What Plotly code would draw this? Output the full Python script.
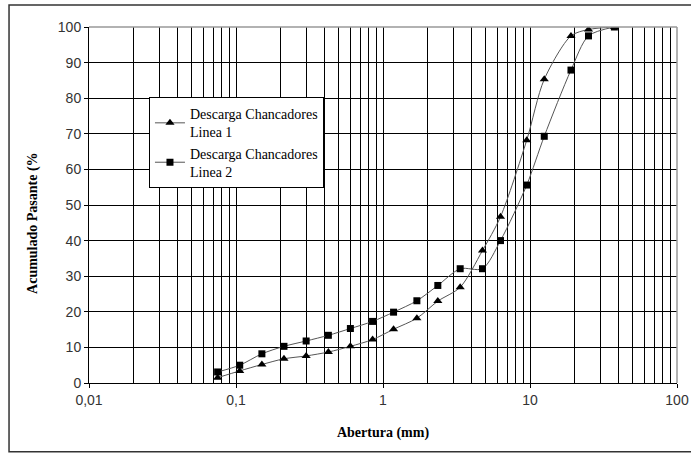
import plotly.graph_objects as go

abertura = [0.075, 0.106, 0.15, 0.212, 0.3, 0.425, 0.6, 0.85, 1.18, 1.7, 2.36,
            3.35, 4.75, 6.3, 9.5, 12.5, 19.0, 25.0, 37.5]
linea1 = [1.5, 3.4, 5.2, 6.8, 7.6, 8.7, 10.3, 12.2, 15.1, 18.2, 23.0,
          26.9, 37.2, 46.7, 68.2, 85.3, 97.5, 99.3, 100.0]
linea2 = [3.1, 5.0, 8.2, 10.3, 11.8, 13.4, 15.3, 17.3, 19.9, 23.1, 27.4,
          32.1, 32.1, 40.0, 55.6, 69.3, 87.9, 97.5, 100.0]

names = ["Descarga Chancadores<br>Linea 1", "Descarga Chancadores<br>Linea 2"]
x_major = [0.01, 0.1, 1, 10, 100]
x_major_text = ["0,01", "0,1", "1", "10", "100"]
x_minor = [m * 10 ** e for e in range(-2, 2) for m in range(2, 10)]
y_ticks = list(range(0, 101, 10))

fig = go.Figure()
fig.add_trace(go.Scatter(
    x=abertura, y=linea1, name=names[0], mode="lines+markers",
    line=dict(color="#555555", width=1, shape="spline", smoothing=0.8),
    marker=dict(symbol="triangle-up", size=8, color="black"),
))
fig.add_trace(go.Scatter(
    x=abertura, y=linea2, name=names[1], mode="lines+markers",
    line=dict(color="#555555", width=1, shape="spline", smoothing=0.8),
    marker=dict(symbol="square", size=7, color="black"),
))

tickfont = dict(family="Liberation Sans, Arial", size=14, color="#333333")
titlefont = dict(family="Liberation Serif, Times New Roman", size=14, color="black")

fig.update_layout(
    width=691, height=453,
    margin=dict(l=89, r=14, t=27, b=70, autoexpand=False),
    paper_bgcolor="white", plot_bgcolor="white",
    showlegend=True,
    legend=dict(
        x=0.102, y=0.803, xanchor="left", yanchor="top",
        bgcolor="white", bordercolor="black", borderwidth=1,
        font=dict(family="Liberation Serif, Times New Roman", size=14, color="black"),
        tracegroupgap=0, itemwidth=30,
    ),
    xaxis=dict(
        type="log", range=[-2, 2], automargin=False,
        tickmode="array", tickvals=x_major, ticktext=x_major_text,
        tickfont=tickfont, ticks="outside", ticklen=4, tickcolor="black",
        showgrid=True, gridcolor="black", gridwidth=1,
        minor=dict(tickmode="array", tickvals=x_minor, showgrid=True,
                   gridcolor="black", gridwidth=1, ticks=""),
        showline=True, linecolor="black", linewidth=1,
        zeroline=False,
        title=dict(text="<b>Abertura (mm)</b>", font=titlefont, standoff=20),
    ),
    yaxis=dict(
        range=[0, 100], automargin=False, tickmode="array", tickvals=y_ticks,
        tickfont=tickfont, ticks="outside", ticklen=4, tickcolor="black",
        showgrid=True, gridcolor="black", gridwidth=1,
        showline=True, linecolor="black", linewidth=1,
        zeroline=False,
    ),
    shapes=[
        dict(type="line", xref="paper", yref="paper", x0=0, x1=1, y0=1, y1=1,
             line=dict(color="#999999", width=1.5), layer="above"),
        dict(type="line", xref="paper", yref="paper", x0=1, x1=1, y0=0, y1=1,
             line=dict(color="#999999", width=1.5), layer="above"),
        dict(type="rect", xref="paper", yref="paper",
             x0=-0.136, x1=1.03, y0=-0.193, y1=1.062,
             line=dict(color="#333333", width=1.5), layer="below"),
    ],
    annotations=[
        dict(text="<b>Acumulado Pasante (%</b>", xref="paper", yref="paper",
             x=-0.095, y=0.45, textangle=-90, showarrow=False,
             font=titlefont, xanchor="center", yanchor="middle"),
    ],
)

fig.write_html("out.html")
